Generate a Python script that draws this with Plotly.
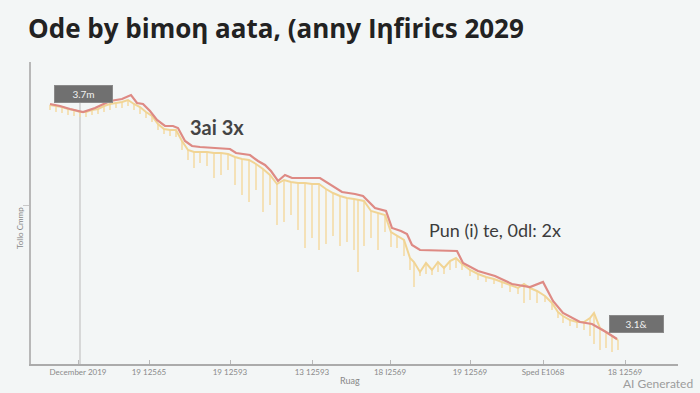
import plotly.graph_objects as go

# ---- data (x = day number, y = price units) ----
red_day = [50, 60, 70, 83, 95, 110, 122, 131, 137, 143, 150, 157, 165, 173, 178, 185, 192, 200, 215, 230,
           236, 250, 258, 265, 271, 278, 285, 292, 320, 332, 342, 355, 363, 375, 386, 392, 401, 407, 412, 420,
           457, 463, 478, 495, 512, 530, 543, 553, 563, 580, 592, 606, 617]
red_val = [26.0, 25.8, 25.5, 25.2, 25.6, 26.3, 26.5, 26.9, 26.1, 26.0, 25.3, 24.4, 23.8, 23.8, 23.6, 22.3, 21.8, 21.7, 21.6, 21.5,
           21.1, 20.9, 20.3, 19.9, 19.3, 18.3, 18.9, 18.6, 18.6, 17.8, 17.2, 17.0, 16.8, 15.6, 15.3, 13.6, 13.3, 13.0, 11.9, 11.4,
           11.3, 10.1, 9.3, 8.8, 8.0, 7.7, 8.2, 6.3, 5.1, 4.2, 4.0, 3.2, 2.5]

yel_day = [50, 56, 62, 68, 74, 80, 86, 92, 98, 104, 110, 116, 122, 128, 134, 140, 146, 152, 158, 164,
           170, 176, 182, 188, 194, 200, 207, 214, 221, 228, 235, 242, 249, 256, 263, 270, 277, 284, 291, 298,
           305, 312, 319, 326, 333, 340, 347, 354, 358, 364, 371, 378, 385, 391, 397, 404, 410, 414, 420, 426,
           432, 438, 444, 450, 456, 462, 470, 478, 486, 494, 502, 510, 518, 524, 530, 537, 545, 552, 558, 563,
           570, 577, 584, 590, 594, 600, 606, 612, 618]
yel_high = [25.9, 25.8, 25.7, 25.5, 25.4, 25.2, 25.2, 25.4, 25.5, 25.8, 26.0, 26.1, 26.2, 26.4, 26.0, 25.7, 25.2, 24.8, 24.0, 23.5,
            23.4, 23.4, 22.3, 21.4, 21.2, 21.2, 21.2, 21.1, 21.1, 21.0, 20.7, 20.5, 20.4, 20.0, 19.5, 18.9, 18.0, 18.4, 18.2, 18.1,
            18.1, 18.0, 18.0, 17.5, 17.1, 16.8, 16.6, 16.5, 16.4, 16.3, 15.3, 15.1, 14.9, 13.2, 12.8, 12.4, 10.6, 10.2, 9.2, 10.1,
            9.4, 10.2, 9.6, 10.3, 10.6, 10.0, 9.4, 9.0, 8.7, 8.5, 8.2, 7.9, 7.6, 8.0, 7.6, 7.3, 6.8, 6.1, 5.2, 4.8,
            4.4, 4.2, 4.2, 4.6, 5.1, 3.6, 3.2, 2.8, 2.4]
yel_low = [25.4, 25.2, 25.1, 24.9, 24.8, 24.7, 24.7, 24.9, 25.0, 25.2, 25.4, 25.6, 25.6, 25.8, 25.4, 25.0, 24.6, 24.2, 23.4, 23.0,
           22.8, 22.7, 21.4, 20.4, 19.6, 20.1, 19.8, 18.6, 18.9, 19.4, 17.9, 16.9, 16.2, 17.4, 15.2, 15.9, 13.9, 14.2, 14.9, 13.4,
           11.6, 12.6, 11.4, 12.0, 12.8, 11.8, 12.2, 11.4, 9.2, 11.8, 12.6, 11.4, 13.2, 11.7, 11.6, 10.8, 9.4, 7.7, 8.8, 9.0,
           8.9, 9.2, 9.0, 9.4, 9.6, 9.4, 8.8, 8.4, 8.2, 8.0, 7.6, 7.2, 7.0, 6.1, 6.4, 6.1, 6.2, 5.4, 4.6, 4.1,
           3.8, 3.6, 3.4, 2.8, 2.0, 1.4, 1.6, 1.2, 1.4]

tick_days = [78, 149, 230, 312, 390, 470, 543, 625]
tick_text = ["December 2019", "19 12565", "19 12593", "13 12593", "18 I2569", "19 12569", "Sped E1068", "18 12569"]

cross_day, cross_val = 80, 26.1
label_top = ("3.7m", 83.5, 27.05)
label_end = ("3.1&", 636.5, 4.0)

BG = "#f3f6f6"

fig = go.Figure()

# yellow range bars + line
fig.add_trace(go.Scatter(
    x=yel_day, y=yel_high, mode="lines",
    line=dict(color="#f1d494", width=2),
    error_y=dict(type="data", symmetric=False, array=[0] * len(yel_day),
                 arrayminus=[h - l for h, l in zip(yel_high, yel_low)],
                 color="#f4dca8", thickness=1.6, width=0),
    hoverinfo="skip", showlegend=False))

# red line
fig.add_trace(go.Scatter(
    x=red_day, y=red_val, mode="lines",
    line=dict(color="#de8a84", width=2.2),
    showlegend=False))

# crosshair
fig.add_shape(type="line", x0=cross_day, x1=cross_day, y0=0, y1=cross_val,
              line=dict(color="#c4c4c4", width=1.2), layer="below")

font_main = "Lato, Open Sans, sans-serif"
font_title = "Open Sans, sans-serif"

for txt, xd, yd, w in [(label_top[0], label_top[1], label_top[2], 57), (label_end[0], label_end[1], label_end[2], 53)]:
    fig.add_annotation(x=xd, y=yd, text=txt, showarrow=False,
                       font=dict(color="#f0f0f0", size=10, family=font_main),
                       bgcolor="#707070", bordercolor="#8a8a8a", borderwidth=1,
                       width=w, height=16, borderpad=0)

fig.add_annotation(x=217, y=23.7, text="<b>3ai 3x</b>", showarrow=False,
                   font=dict(color="#444444", size=20, family=font_main))
fig.add_annotation(x=495, y=13.4, text="Pun (i) te, 0dl: 2x", showarrow=False,
                   font=dict(color="#3c3c3c", size=18, family=font_main))

fig.add_annotation(xref="paper", yref="paper", x=-0.028, y=0.45, text="Tollo Cmmp",
                   textangle=-90, showarrow=False, font=dict(color="#888", size=8, family=font_main))
fig.add_annotation(xref="paper", yref="paper", x=0.493, y=-0.056, yanchor="middle", text="Ruag",
                   showarrow=False, font=dict(color="#888", size=9, family=font_main))
fig.add_annotation(xref="paper", yref="paper", x=(695 - 31) / 647, xanchor="right",
                   y=(364 - 384) / 302, yanchor="middle",
                   text="AI Generated", showarrow=False,
                   font=dict(color="#9c9c9c", size=12, family=font_main))

fig.update_layout(
    width=700, height=393,
    margin=dict(l=31, r=22, t=62, b=29),
    paper_bgcolor=BG, plot_bgcolor=BG,
    title=dict(text="<b>Ode by bimoη aata, (anny Iηfirics 2029</b>",
               x=28 / 700, xanchor="left", xref="container",
               y=1 - 29 / 393, yanchor="middle", yref="container",
               font=dict(size=26, color="#222222", family=font_title)),
    xaxis=dict(range=[31, 678], showgrid=False, zeroline=False,
               showline=True, linecolor="#ababab", linewidth=1.5,
               tickvals=tick_days, ticktext=tick_text, ticks="inside", ticklen=4,
               tickcolor="#b8b8b8", tickfont=dict(size=8, color="#8a8a8a", family=font_main)),
    yaxis=dict(range=[0, 30.2], showgrid=False, zeroline=False,
               showline=True, linecolor="#b8b8b8", linewidth=1.5,
               tickvals=[15.9], ticktext=[""], ticks="outside", ticklen=6, tickcolor="#c8c8c8"),
)

fig.write_html("out.html")
